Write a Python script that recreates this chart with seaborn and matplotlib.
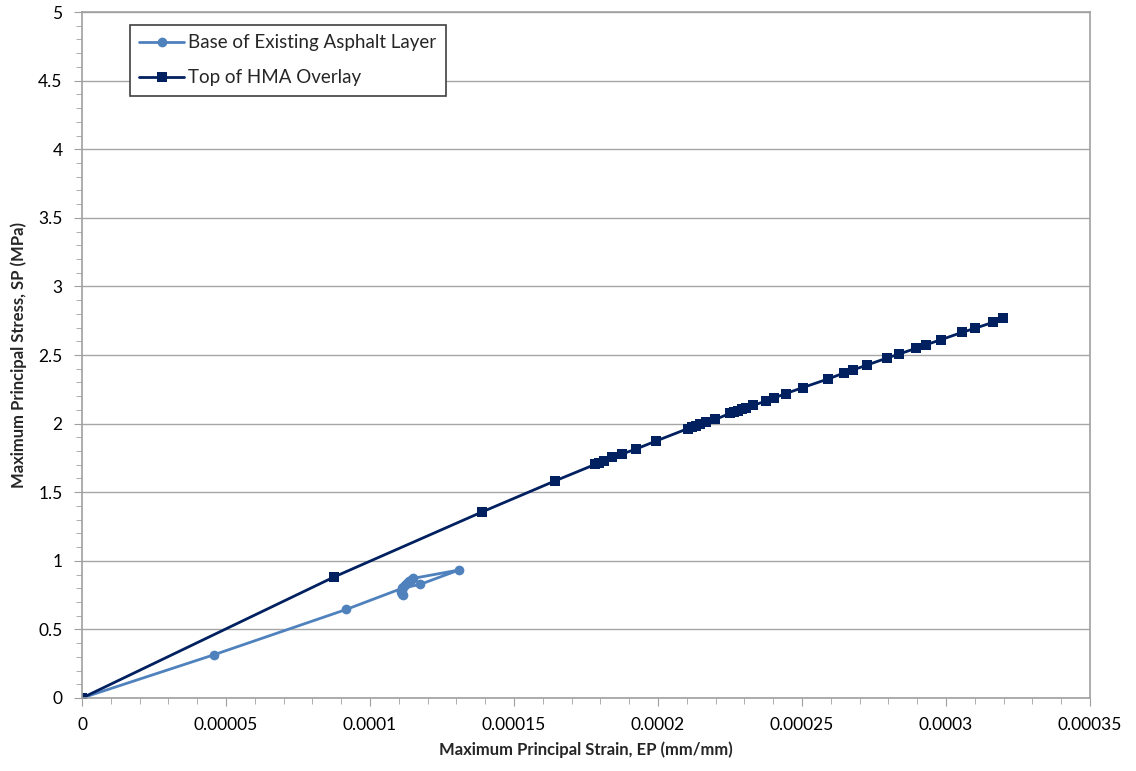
import numpy as np
import pandas as pd
import seaborn as sns
import matplotlib.pyplot as plt
from matplotlib.ticker import MultipleLocator, FuncFormatter

# strain (mm/mm) and stress (MPa)
base_strain = [0, 4.58e-5, 9.17e-5, 1.112e-4, 1.174e-4, 1.309e-4, 1.150e-4, 1.143e-4,
               1.135e-4, 1.127e-4, 1.120e-4, 1.114e-4, 1.110e-4, 1.109e-4, 1.111e-4, 1.114e-4]
base_stress = [0, 0.315, 0.645, 0.800, 0.828, 0.933, 0.872, 0.862,
               0.850, 0.836, 0.822, 0.806, 0.790, 0.774, 0.760, 0.748]

top_strain = [0, 8.75e-5, 1.389e-4, 1.642e-4, 1.781e-4, 1.795e-4, 1.813e-4, 1.840e-4,
              1.875e-4, 1.924e-4, 1.993e-4, 2.104e-4, 2.118e-4, 2.132e-4, 2.146e-4,
              2.167e-4, 2.198e-4, 2.250e-4, 2.264e-4, 2.278e-4, 2.292e-4, 2.306e-4,
              2.330e-4, 2.375e-4, 2.403e-4, 2.444e-4, 2.503e-4, 2.590e-4, 2.646e-4,
              2.677e-4, 2.726e-4, 2.795e-4, 2.837e-4, 2.896e-4, 2.931e-4, 2.983e-4,
              3.056e-4, 3.101e-4, 3.163e-4, 3.198e-4]
top_stress = [0, 0.882, 1.356, 1.582, 1.702, 1.716, 1.731, 1.753,
              1.778, 1.815, 1.873, 1.964, 1.975, 1.986, 1.997,
              2.012, 2.030, 2.074, 2.085, 2.095, 2.106, 2.114,
              2.132, 2.165, 2.187, 2.219, 2.263, 2.325, 2.369,
              2.391, 2.427, 2.478, 2.507, 2.549, 2.575, 2.612,
              2.665, 2.695, 2.738, 2.767]

series_names = ['Base of Existing Asphalt Layer', 'Top of HMA Overlay']

df = pd.concat([
    pd.DataFrame({'EP': base_strain, 'SP': base_stress, 'series': series_names[0]}),
    pd.DataFrame({'EP': top_strain, 'SP': top_stress, 'series': series_names[1]}),
], ignore_index=True)

sns.set_style('white')
plt.rcParams['font.family'] = ['Lato', 'DejaVu Sans']

fig = plt.figure(figsize=(11.36, 7.71), dpi=100)
ax = fig.add_axes([0.0722, 0.0947, 0.8873, 0.8897])

palette = {series_names[0]: '#4F81BD', series_names[1]: '#002060'}
markers = {series_names[0]: 'o', series_names[1]: 's'}
sns.lineplot(data=df, x='EP', y='SP', hue='series', style='series',
             palette=palette, markers=markers, dashes=False, sort=False,
             estimator=None, linewidth=2, markersize=7, markeredgewidth=0,
             ax=ax)

ax.set_xlim(0, 0.00035)
ax.set_ylim(0, 5)
ax.xaxis.set_major_locator(MultipleLocator(0.00005))
ax.xaxis.set_minor_locator(MultipleLocator(0.00001))
ax.yaxis.set_major_locator(MultipleLocator(0.5))
ax.yaxis.set_minor_locator(MultipleLocator(0.1))
ax.xaxis.set_major_formatter(FuncFormatter(lambda v, p: np.format_float_positional(round(v, 6), trim='-')))
ax.yaxis.set_major_formatter(FuncFormatter(lambda v, p: '%g' % round(v, 3)))

ax.grid(axis='y', which='major', color='#A6A6A6', linewidth=1)
ax.set_axisbelow(True)
for s in ax.spines.values():
    s.set_color('#A0A0A0')
    s.set_linewidth(1.2)

ax.tick_params(axis='both', which='both', direction='out', color='#A0A0A0',
               labelsize=12.5, colors='#A0A0A0', labelcolor='black')
ax.tick_params(axis='both', which='major', length=6, pad=8)
ax.tick_params(axis='both', which='minor', length=4)
ax.tick_params(axis='x', which='both', bottom=True)
ax.tick_params(axis='y', which='both', left=True)

ax.set_xlabel('Maximum Principal Strain, EP (mm/mm)', fontsize=12, fontweight='bold', labelpad=6)
ax.set_ylabel('Maximum Principal Stress, SP (MPa)', fontsize=12, fontweight='bold', labelpad=8)

leg = ax.legend(loc='upper left', bbox_to_anchor=(0.0476, 0.981), borderaxespad=0,
                fontsize=13.5, frameon=True, fancybox=False, framealpha=1,
                edgecolor='#404040', handlelength=2.4, borderpad=0.5,
                labelspacing=0.95, handletextpad=0.2)
leg.get_frame().set_linewidth(1.2)

fig.savefig('out.png', dpi=100)
